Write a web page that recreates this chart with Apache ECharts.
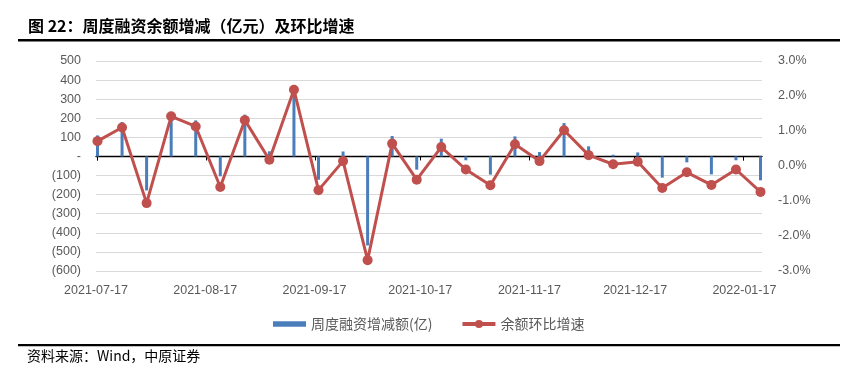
<!DOCTYPE html>
<html><head><meta charset="utf-8">
<script src="https://cdn.jsdelivr.net/npm/echarts@6/dist/echarts.min.js"></script>
<style>html,body{margin:0;padding:0;background:#fff}#c{width:852px;height:375px}</style>
</head><body><div id="c"></div>
<script>
const dates = ['2021-07-17','2021-07-24','2021-07-31','2021-08-07','2021-08-14','2021-08-21','2021-08-28',
  '2021-09-04','2021-09-11','2021-09-18','2021-09-25','2021-10-02','2021-10-09','2021-10-16','2021-10-23',
  '2021-10-30','2021-11-06','2021-11-13','2021-11-20','2021-11-27','2021-12-04','2021-12-11','2021-12-18',
  '2021-12-25','2022-01-01','2022-01-08','2022-01-15','2022-01-22'];
const weeklyChange = [110,180,-178,205,189,-104,219,27,330,-122,26,-466,107,-69,93,-20,-95,105,23,175,53,9,21,-111,-31,-94,-20,-125];
const growthPct = [0.71,1.10,-1.06,1.42,1.13,-0.60,1.31,0.18,2.18,-0.69,0.14,-2.69,0.64,-0.39,0.54,-0.10,-0.55,0.62,0.14,1.02,0.31,0.05,0.12,-0.63,-0.18,-0.54,-0.10,-0.74];
const monthTicks = ['2021-07-17','2021-08-17','2021-09-17','2021-10-17','2021-11-17','2021-12-17','2022-01-17'];
const seriesNames = ['周度融资增减额(亿)','余额环比增速'];
const titleText = '图 22：周度融资余额增减（亿元）及环比增速';
const sourceText = '资料来源：Wind，中原证券';

const ts = s => new Date(s + 'T00:00:00').getTime();
const tickVals = monthTicks.map(ts);
const xMin = ts('2021-07-17'), xMax = ts('2022-01-22');
const cjk = '"Noto Sans CJK SC", sans-serif';
const num = '"Liberation Sans", Arial, sans-serif';
const grey = '#595959';

const chart = echarts.init(document.getElementById('c'));
chart.setOption({
  animation: false,
  grid: {left: 96, right: 90, top: 61, bottom: 104},
  legend: {
    top: 312, left: 268, itemWidth: 33, itemHeight: 10, itemGap: 28,
    textStyle: {color: grey, fontSize: 14, fontFamily: cjk},
    data: [
      {name: seriesNames[0], icon: 'path://M0,0 L32,0 L32,5.3 L0,5.3 Z'},
      {name: seriesNames[1], lineStyle: {width: 4}}
    ]
  },
  xAxis: [{
    type: 'time', min: xMin, max: xMax,
    axisLine: {show: true, onZero: true, onZeroAxisIndex: 0, lineStyle: {color: '#000', width: 1.3}},
    axisTick: {show: true, length: 4, customValues: tickVals, lineStyle: {color: '#000'}},
    axisLabel: {show: false},
    splitLine: {show: false}
  }, {
    type: 'time', min: xMin, max: xMax, position: 'bottom',
    axisLine: {show: false}, axisTick: {show: false}, splitLine: {show: false},
    axisLabel: {show: true, customValues: tickVals, formatter: '{yyyy}-{MM}-{dd}', color: grey,
      fontSize: 12.5, fontFamily: num, margin: 13, hideOverlap: false}
  }],
  yAxis: [{
    type: 'value', min: -600, max: 500, interval: 100,
    axisLine: {show: false}, axisTick: {show: false},
    axisLabel: {color: grey, fontSize: 12.5, fontFamily: num, margin: 15,
      formatter: v => v === 0 ? '-' : (v < 0 ? '(' + Math.abs(v) + ')' : String(v))},
    splitLine: {lineStyle: {color: '#d9d9d9', width: 1}}
  }, {
    type: 'value', min: -3, max: 3, interval: 1, position: 'right',
    axisLine: {show: false}, axisTick: {show: false},
    axisLabel: {color: grey, fontSize: 12.5, fontFamily: num, margin: 16, formatter: v => v.toFixed(1) + '%'},
    splitLine: {show: false}
  }],
  series: [{
    name: seriesNames[0], type: 'bar', xAxisIndex: 0, yAxisIndex: 0, barWidth: 3,
    itemStyle: {color: '#4a7ebb'},
    data: dates.map((d, i) => [ts(d), weeklyChange[i]]), z: 2
  }, {
    name: seriesNames[1], type: 'line', xAxisIndex: 0, yAxisIndex: 1,
    symbol: 'circle', symbolSize: 10, lineStyle: {color: '#c0504d', width: 3},
    itemStyle: {color: '#c0504d'},
    data: dates.map((d, i) => [ts(d), growthPct[i]]), z: 3
  }],
  graphic: [
    {type: 'text', left: 28, top: 18, style: {text: titleText, font: 'bold 16px ' + cjk, fill: '#000'}},
    {type: 'rect', shape: {x: 18, y: 39, width: 822, height: 2.5}, style: {fill: '#000'}},
    {type: 'rect', shape: {x: 18, y: 344, width: 822, height: 2.2}, style: {fill: '#000'}},
    {type: 'text', left: 27, top: 349, style: {text: sourceText, font: '14px ' + cjk, fill: '#000'}}
  ]
});
</script></body></html>
